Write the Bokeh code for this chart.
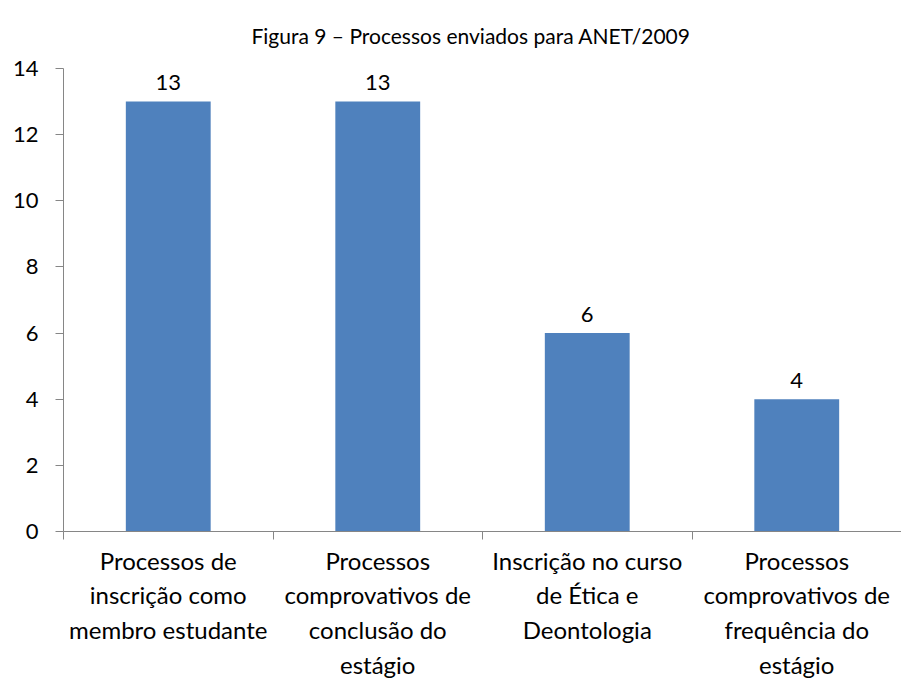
from bokeh.plotting import figure
from bokeh.models import FixedTicker, Range1d, ColumnDataSource, LinearAxis
from bokeh.core.properties import value
from bokeh.embed import file_html
from bokeh.resources import INLINE

categories = [
    "Processos de\ninscrição como\nmembro estudante",
    "Processos\ncomprovativos de\nconclusão do\nestágio",
    "Inscrição no curso\nde Ética e\nDeontologia",
    "Processos\ncomprovativos de\nfrequência do\nestágio",
]
values = [13, 13, 6, 4]
y_ticks = [0, 2, 4, 6, 8, 10, 12, 14]
title_text = "Figura 9 – Processos enviados para ANET/2009"

FONT = "Lato"
AXIS_COLOR = "#868686"

xs = [i + 0.5 for i in range(len(categories))]
src = ColumnDataSource(dict(x=xs, top=values, lab=[str(v) for v in values]))

p = figure(width=901, height=681, output_backend="svg", toolbar_location=None,
           x_range=Range1d(0, len(categories)), y_range=Range1d(0, 14),
           x_axis_location=None, y_axis_location=None,
           min_border_left=63, min_border_right=0, min_border_top=0, min_border_bottom=131)
p.outline_line_color = None
p.grid.visible = False
p.background_fill_color = "white"
p.border_fill_color = "white"

p.vbar(x="x", top="top", width=0.405, bottom=0, source=src, fill_color="#4F81BD", line_color=None)
p.text(x="x", y="top", text="lab", source=src, text_align="center", text_baseline="alphabetic",
       y_offset=-19, text_font=value(FONT), text_font_size="22px", text_color="black")

yaxis = LinearAxis(ticker=FixedTicker(ticks=y_ticks, minor_ticks=[]))
yaxis.axis_line_color = AXIS_COLOR
yaxis.major_tick_line_color = AXIS_COLOR
yaxis.major_tick_in = 0
yaxis.major_tick_out = 8
yaxis.major_label_standoff = 17
yaxis.major_label_text_font = FONT
yaxis.major_label_text_font_size = "22px"
yaxis.major_label_text_color = "black"
p.add_layout(yaxis, "left")

xaxis = LinearAxis(ticker=FixedTicker(ticks=xs, minor_ticks=list(range(len(categories) + 1))))
xaxis.major_label_overrides = {x: c for x, c in zip(xs, categories)}
xaxis.axis_line_color = AXIS_COLOR
xaxis.major_tick_line_color = None
xaxis.major_tick_out = 8
xaxis.minor_tick_line_color = AXIS_COLOR
xaxis.minor_tick_in = 0
xaxis.minor_tick_out = 8
xaxis.major_label_standoff = 6
xaxis.major_label_text_font = FONT
xaxis.major_label_text_font_size = "24px"
xaxis.major_label_text_color = "black"
xaxis.major_label_text_line_height = 1.2
p.add_layout(xaxis, "below")

p.title.text = title_text
p.title.align = "left"
p.title.offset = 188
p.title.text_font = FONT
p.title.text_font_size = "21px"
p.title.text_font_style = "normal"
p.title.text_color = "black"
p.title.standoff = 41

open("out.html", "w").write(file_html(p, INLINE))
